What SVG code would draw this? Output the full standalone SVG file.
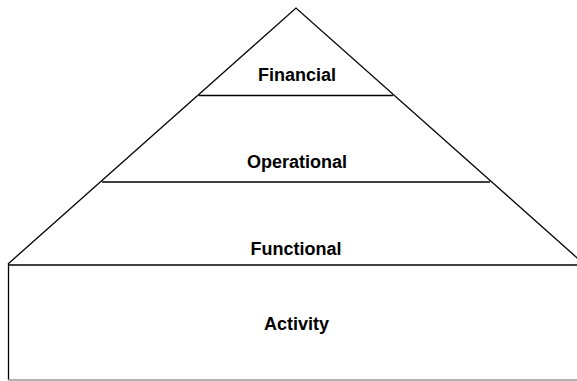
<svg xmlns="http://www.w3.org/2000/svg" width="577" height="381" viewBox="0 0 577 381">
<style>
.ln{stroke:#000;stroke-width:1.3;fill:none}
.t{font-family:"Liberation Sans",Arial,sans-serif;font-weight:bold;font-size:18px;text-anchor:middle;fill:#000}
</style>
<rect width="577" height="381" fill="#fff"/>
<g id="connectors">
<polyline class="ln" points="8,264 296,8 584,264"/>
<line class="ln" x1="199" y1="95.5" x2="393" y2="95.5"/>
<line class="ln" x1="102" y1="182" x2="490" y2="182"/>
<line class="ln" x1="8" y1="265" x2="577" y2="265"/>
<line class="ln" x1="8.5" y1="264" x2="8.5" y2="380"/>
<line x1="8" y1="380" x2="577" y2="380" stroke="#999" stroke-width="1.3"/>
</g>
<g id="financial"><text class="t" x="297" y="81">Financial</text></g>
<g id="operational"><text class="t" x="297" y="168">Operational</text></g>
<g id="functional"><text class="t" x="296" y="255">Functional</text></g>
<g id="activity"><text class="t" x="296.5" y="330">Activity</text></g>
</svg>
